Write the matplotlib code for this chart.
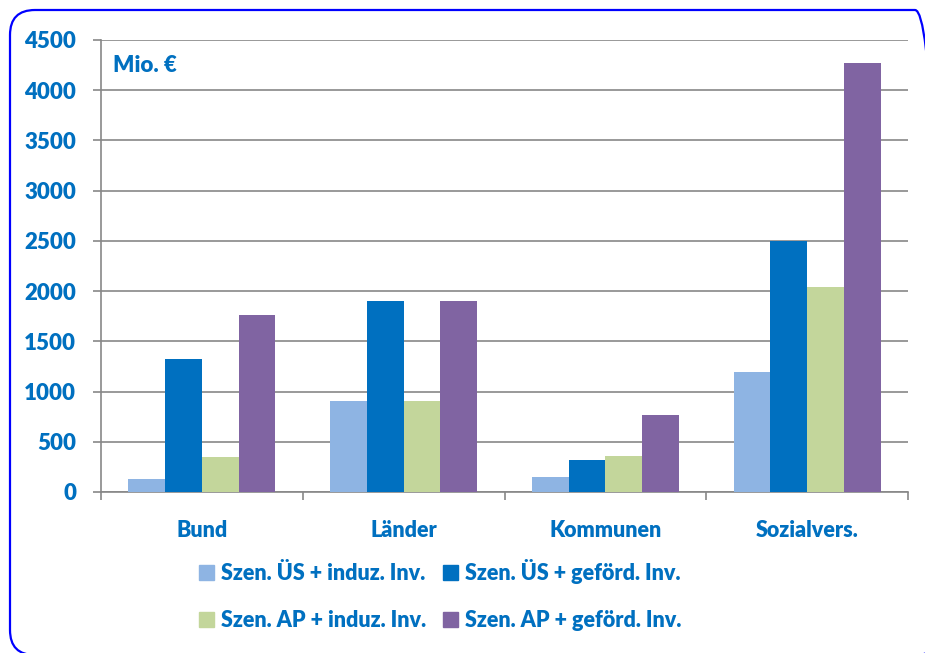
import numpy as np
import matplotlib
matplotlib.use("Agg")
import matplotlib.pyplot as plt
from matplotlib.patches import FancyBboxPatch, Patch

categories = ["Bund", "Länder", "Kommunen", "Sozialvers."]
series_names = ["Szen. ÜS + induz. Inv.", "Szen. ÜS + geförd. Inv.",
                "Szen. AP + induz. Inv.", "Szen. AP + geförd. Inv."]
us_induz = [132, 908, 149, 1193]
us_gefoerd = [1320, 1906, 315, 2502]
ap_induz = [348, 908, 358, 2041]
ap_gefoerd = [1764, 1906, 762, 4274]
yticks = [0, 500, 1000, 1500, 2000, 2500, 3000, 3500, 4000, 4500]

colors = ["#8EB4E3", "#0070C0", "#C3D69B", "#8064A2"]
txt = "#0070C0"
plt.rcParams['font.family'] = ['Lato', 'DejaVu Sans']
wt = 'heavy'

W, H = 925, 653
fig = plt.figure(figsize=(W / 100, H / 100), dpi=100)

# rahmen (pixel coords, y nach oben)
bg = fig.add_axes([0, 0, 1, 1])
bg.set_xlim(0, W)
bg.set_ylim(0, H)
bg.axis("off")
bg.add_patch(FancyBboxPatch((10, H - 655), 930, 645,
                            boxstyle="round,pad=0,rounding_size=25",
                            fc="none", ec="#0000FF", lw=1.6, clip_on=False))

ax = fig.add_axes([101 / W, 1 - 492 / H, 807 / W, 452 / H])
ax.patch.set_alpha(0)
x = np.arange(len(categories))
w = 0.182
data = [us_induz, us_gefoerd, ap_induz, ap_gefoerd]
for k, vals in enumerate(data):
    ax.bar(x + (k - 1.5) * w, vals, w, color=colors[k], zorder=3)

ax.set_xlim(-0.5, 3.5)
ax.set_ylim(0, 4500)
ax.set_yticks(yticks)
ax.set_yticklabels([str(v) for v in yticks], color=txt, fontsize=16, fontweight=wt)
ax.set_xticks(x)
ax.set_xticklabels(categories, color=txt, fontsize=15.5, fontweight=wt)
ax.set_xticks([-0.5, 0.5, 1.5, 2.5, 3.5], minor=True)
ax.tick_params(axis='x', which='major', length=0, pad=20)
ax.tick_params(axis='x', which='minor', length=6, width=1.2, color="#878787", direction='out')
ax.tick_params(axis='y', length=6, width=1.2, color="#878787", pad=12)
ax.grid(axis='y', color="#878787", lw=1.2, zorder=0)
for s in ["top", "right"]:
    ax.spines[s].set_visible(False)
for s in ["left", "bottom"]:
    ax.spines[s].set_color("#878787")
    ax.spines[s].set_linewidth(1.2)

ax.text(12 / 807, 1 - 26 / 452, "Mio. €", transform=ax.transAxes,
        color=txt, fontsize=16, fontweight=wt, va='center', ha='left')

handles = [Patch(color=c) for c in colors]
order = [0, 2, 1, 3]
fig.legend([handles[i] for i in order], [series_names[i] for i in order],
           loc='center', bbox_to_anchor=(440 / W, 1 - 595 / H), ncol=2,
           frameon=False, prop={'size': 15.5, 'weight': wt}, labelcolor=txt,
           handlelength=0.7, handleheight=0.7, handletextpad=0.3,
           columnspacing=0.8, labelspacing=1.2)

plt.savefig("out.png", dpi=100)
